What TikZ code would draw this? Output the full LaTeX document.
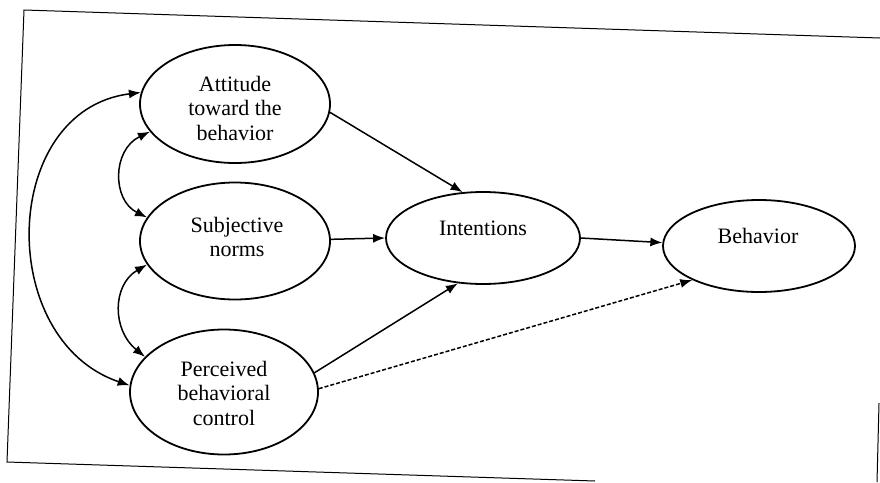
\documentclass[tikz,border=0pt]{standalone}
\usepackage{fontspec}
\setmainfont{Liberation Serif}
\usetikzlibrary{shapes.geometric,arrows.meta}
\begin{document}
\begin{tikzpicture}[x=1pt,y=-1pt,
  oval/.style={draw,ellipse,line width=1.8pt,inner sep=0pt},
  lbl/.style={font=\fontsize{22}{24.5}\selectfont,align=center,inner sep=0pt},
  arr/.style={line width=1.5pt,-{Latex[length=12pt,width=9pt]}},
  darr/.style={line width=1.5pt,{Latex[length=12pt,width=9pt]}-{Latex[length=12pt,width=9pt]}},
  dsh/.style={arr,dash pattern=on 4pt off 2pt},
  frame/.style={line width=1pt}]
\useasboundingbox (0,0) rectangle (880,482);
% frame (scanned, slightly rotated)
\coordinate (f1) at (24,10);
\coordinate (f2) at (880,38);
\coordinate (f3) at (7,462);
\coordinate (f4) at (595,481);
\coordinate (f5) at (879,403);
\coordinate (f6) at (877,482);
\draw[frame] (f2) -- (f1) -- (f3) -- (f4);
\draw[frame] (f5) -- (f6);
% ellipses
\node[oval,minimum width=190pt,minimum height=118pt] (att) at (235,104) {};
\node[oval,minimum width=190pt,minimum height=117pt] (sub) at (235,241) {};
\node[oval,minimum width=188pt,minimum height=125pt] (per) at (224,392) {};
\node[oval,minimum width=194pt,minimum height=92pt] (int) at (483,238) {};
\node[oval,minimum width=192pt,minimum height=92pt] (beh) at (759,246) {};
% labels
\node[lbl] (attt) at (235,108) {Attitude\\toward the\\behavior};
\node[lbl] (subt) at (237,237) {Subjective\\norms};
\node[lbl] (pert) at (224,393) {Perceived\\behavioral\\control};
\node[lbl] (intt) at (483,228) {Intentions};
\node[lbl] (beht) at (758,236) {Behavior};
% straight arrows
\draw[arr] (att.-5) -- (int.114);
\draw[arr] (sub.1) -- (int.180);
\draw[arr] (per.12) -- (int.241);
\draw[arr] (int.0) -- (beh.178);
\draw[dsh] (per.2) -- (beh.207);
% curved double arrows
\draw[darr] (att.198) .. controls (112,150) and (112,200) .. (sub.165);
\draw[darr] (sub.195) .. controls (112,285) and (112,330) .. (per.156);
\draw[darr] (att.173) .. controls (0,110) and (-5,340) .. (per.176);
\end{tikzpicture}
\end{document}
